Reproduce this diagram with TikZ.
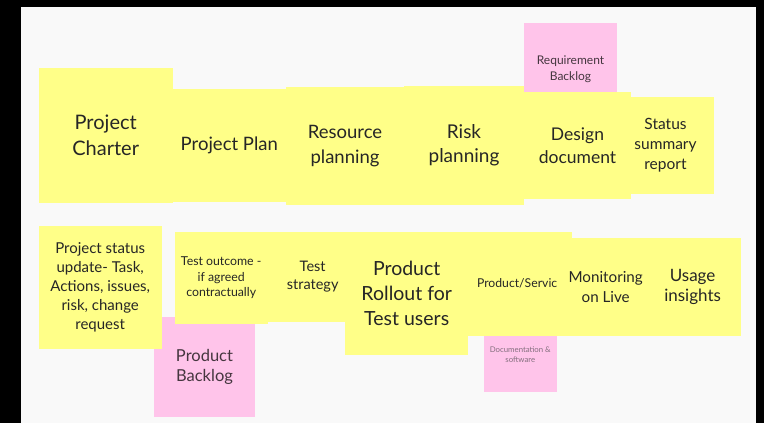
\documentclass[tikz,border=0pt]{standalone}
\usepackage{fontspec}
\setmainfont{Lato}
\usepackage{xcolor}
\usepackage{tikz}
\usetikzlibrary{positioning}

\definecolor{frame}{HTML}{000000}
\definecolor{canvas}{HTML}{F9F9F9}
\definecolor{noteyellow}{HTML}{FFFF88}
\definecolor{notepink}{HTML}{FFC4EA}
\definecolor{notetext}{HTML}{262626}
\definecolor{pinktext}{HTML}{45363F}
\definecolor{faintpink}{HTML}{85707F}

\begin{document}
\begin{tikzpicture}[x=1pt, y=-1pt,
        note/.style={rectangle, fill=noteyellow, text=notetext, inner sep=0pt, align=center},
        pinknote/.style={note, fill=notepink, text=pinktext},
        fs/.style 2 args={font=\fontsize{#1}{#2}\selectfont}]
            \useasboundingbox (0,0) rectangle (764,423);
            \fill[frame] (0,0) rectangle (764,423);
            \fill[canvas] (21,7) rectangle (756,423);

            % top row
            \node [note, fs={20}{26}, minimum width=134, minimum height=134.7] (charter) at (105.7,135.3) {Project\\Charter};
            \node [note, fs={18.5}{24}, minimum size=113.3] (plan) at (229.3,145.5) {Project Plan};
            \node [note, fs={18.5}{25}, minimum width=118, minimum height=118.3] (resource) at (345,145.8) {Resource\\planning};
            \node [note, fs={19}{24}, minimum width=120, minimum height=119.6] (risk) at (464,145.5) {Risk\\planning};
            \node [note, fs={15.5}{20}, minimum size=96.4] (status) at (665.5,145.5) {Status\\summary\\report};
            \node [pinknote, fs={12}{15.7}, minimum size=93] (reqbacklog) at (570.5,69.2) {Requirement\\Backlog};
            \node [note, fs={17.5}{23}, minimum width=107, minimum height=106.7] (design) at (577.5,145.6) {Design\\document};

            % bottom row
            \node [pinknote, fs={16.5}{20}, minimum width=101, minimum height=100.3] (prodbacklog) at (204.5,367.2) {Product\\Backlog};
            \node [note, fs={15}{19}, minimum width=123, minimum height=122.7] (update) at (100.2,287.3) {Project status\\update- Task,\\Actions, issues,\\risk, change\\request};
            \node [note, fs={12.3}{15.5}, minimum width=93, minimum height=92] (outcome) at (221.2,278) {Test outcome -\\if agreed\\contractually};
            \node [note, fs={14.5}{18.5}, minimum size=90] (strategy) at (312.7,276.7) {Test\\strategy};
            \node [note, fs={19.5}{25}, minimum size=123.3] (rollout) at (406.7,293.3) {Product\\Rollout for\\Test users};
            \node [pinknote, text=faintpink, fs={7.8}{10}, minimum size=73.3] (docs) at (520.3,355) {Documentation \&\\software};
            \node [note, fs={12.2}{15}, minimum size=104] (service) at (520.3,283.7) {Product/Service};
            \node [note, fs={17}{20.7}, minimum size=97.4] (usage) at (692.6,287) {Usage\\insights};
            \node [note, fs={15.2}{19.3}, minimum size=97.4] (monitoring) at (605.7,287) {Monitoring\\on Live};
        \end{tikzpicture}
\end{document}
